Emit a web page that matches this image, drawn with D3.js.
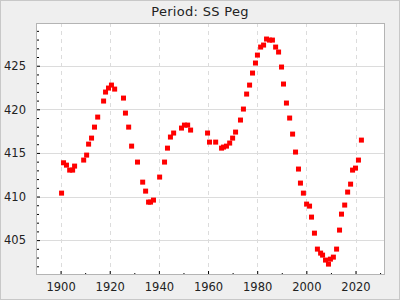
<!DOCTYPE html>
<html>
<head>
<meta charset="utf-8">
<script src="https://cdn.jsdelivr.net/npm/d3@7"></script>
<style>
  html, body { margin: 0; padding: 0; background: #efefef; }
  svg { display: block; font-family: "DejaVu Sans", sans-serif; }
</style>
</head>
<body>
<svg id="chart" width="400" height="300"></svg>
<script>
  'use strict';

  const title = 'Period: SS Peg';

  const years = [
    1900.4, 1901.2, 1902.4, 1903.7, 1904.9, 1905.7, 1909.4, 1910.6, 1911.4, 1912.6,
    1913.8, 1915.1, 1917.5, 1918.3, 1919.5, 1920.7, 1922.0, 1925.6, 1926.4, 1927.7,
    1928.9, 1931.3, 1933.4, 1934.6, 1935.8, 1936.6, 1937.8, 1940.3, 1942.3, 1943.5,
    1944.7, 1946.0, 1949.2, 1950.4, 1951.7, 1952.9, 1959.8, 1960.6, 1963.1, 1965.5,
    1966.3, 1967.5, 1968.8, 1970.0, 1971.2, 1973.2, 1974.4, 1975.7, 1976.9, 1978.1,
    1979.3, 1980.1, 1981.4, 1982.6, 1983.8, 1985.0, 1986.2, 1987.5, 1988.7, 1989.9,
    1990.7, 1991.9, 1993.2, 1994.4, 1995.6, 1996.8, 1997.6, 1998.8, 2000.1, 2001.3,
    2002.1, 2003.3, 2004.5, 2005.8, 2006.6, 2007.8, 2009.0, 2009.8, 2011.0, 2012.3,
    2013.5, 2014.3, 2015.6, 2016.8, 2018.0, 2018.8, 2020.0, 2021.2, 2022.4
  ];

  const periods = [
    410.39, 413.87, 413.60, 413.03, 413.03, 413.49, 414.18, 414.75, 416.01, 416.70,
    417.96, 419.11, 420.95, 421.98, 422.44, 422.78, 422.32, 421.29, 419.57, 417.96,
    415.78, 413.95, 411.65, 410.62, 409.36, 409.36, 409.59, 412.23, 413.95, 415.55,
    416.82, 417.28, 417.85, 418.19, 418.19, 417.62, 417.28, 416.24, 416.24, 415.55,
    415.67, 415.78, 416.13, 416.70, 417.39, 418.77, 420.03, 421.75, 422.78, 424.16,
    425.31, 426.22, 427.14, 427.37, 428.06, 427.94, 427.94, 427.14, 426.57, 424.85,
    422.90, 420.72, 419.00, 417.16, 415.10, 413.15, 411.54, 410.39, 409.13, 408.90,
    407.64, 405.80, 403.97, 403.51, 403.28, 402.71, 402.25, 402.82, 403.05, 403.97,
    406.15, 407.98, 409.02, 410.51, 411.42, 413.03, 413.26, 414.18, 416.47
  ];

  const xTicks = [1900, 1920, 1940, 1960, 1980, 2000, 2020];
  const xMinorTicks = [1890, 1910, 1930, 1950, 1970, 1990, 2010, 2030];
  const yTicks = [405, 410, 415, 420, 425];
  const yMinorTicks = d3.range(402, 430, 1).filter(function (v) { return v % 5 !== 0; });

  const width = 400;
  const height = 300;
  const margin = { top: 23, right: 15, bottom: 25, left: 36 };
  const innerW = width - margin.left - margin.right;
  const innerH = height - margin.top - margin.bottom;

  const svg = d3.select('#chart');

  svg.append('rect')
    .attr('x', 0.5).attr('y', 0.5)
    .attr('width', width - 1).attr('height', height - 1)
    .attr('fill', '#efefef')
    .attr('stroke', '#c8c8c8');

  svg.append('text')
    .attr('x', width / 2)
    .attr('y', 15.5)
    .attr('text-anchor', 'middle')
    .attr('font-size', 13)
    .attr('letter-spacing', 0.3)
    .attr('fill', '#222')
    .text(title);

  const g = svg.append('g').attr('transform', 'translate(' + margin.left + ',' + margin.top + ')');

  const x = d3.scaleLinear().domain([1890, 2032]).range([0, innerW]);
  const y = d3.scaleLinear().domain([401, 429.9]).range([innerH, 0]);

  g.append('rect')
    .attr('width', innerW)
    .attr('height', innerH)
    .attr('fill', '#fff');

  // grid
  g.append('g').selectAll('line')
    .data(yTicks)
    .join('line')
    .attr('x1', 0).attr('x2', innerW)
    .attr('y1', function (d) { return Math.round(y(d)) + 0.5; })
    .attr('y2', function (d) { return Math.round(y(d)) + 0.5; })
    .attr('stroke', '#dcdcdc');

  g.append('g').selectAll('line')
    .data(xTicks)
    .join('line')
    .attr('y1', 0).attr('y2', innerH)
    .attr('x1', function (d) { return Math.round(x(d)) + 0.5; })
    .attr('x2', function (d) { return Math.round(x(d)) + 0.5; })
    .attr('stroke', '#dcdcdc')
    .attr('stroke-dasharray', '4,4');

  // axes with inward ticks
  const xMinor = g.append('g')
    .attr('transform', 'translate(0,' + innerH + ')')
    .call(d3.axisBottom(x).tickValues(xMinorTicks).tickSize(-2).tickFormat(''));
  xMinor.select('.domain').remove();

  const xAxis = g.append('g')
    .attr('transform', 'translate(0,' + innerH + ')')
    .call(d3.axisBottom(x).tickValues(xTicks).tickSize(-4).tickPadding(8)
      .tickFormat(d3.format('d')));
  xAxis.select('.domain').remove();
  xAxis.selectAll('text').attr('font-size', 11.5).attr('fill', '#222').attr('font-family', '"DejaVu Sans", sans-serif');

  const yMinor = g.append('g')
    .call(d3.axisLeft(y).tickValues(yMinorTicks).tickSize(-3).tickFormat(''));
  yMinor.select('.domain').remove();

  const yAxis = g.append('g')
    .call(d3.axisLeft(y).tickValues(yTicks).tickSize(-4).tickPadding(10)
      .tickFormat(d3.format('d')));
  yAxis.select('.domain').remove();
  yAxis.selectAll('text').attr('font-size', 11.5).attr('fill', '#222').attr('font-family', '"DejaVu Sans", sans-serif');

  g.append('rect')
    .attr('x', 0.5).attr('y', 0.5)
    .attr('width', innerW - 1)
    .attr('height', innerH - 1)
    .attr('fill', 'none')
    .attr('stroke', '#b4b4b4');

  // points
  const pts = years.map(function (yr, i) { return { year: yr, period: periods[i] }; });
  const size = 5;
  g.append('g').selectAll('rect')
    .data(pts)
    .join('rect')
    .attr('x', function (d) { return x(d.year) - size / 2; })
    .attr('y', function (d) { return y(d.period) - size / 2; })
    .attr('width', size)
    .attr('height', size)
    .attr('fill', '#ff0000');
</script>
</body>
</html>
